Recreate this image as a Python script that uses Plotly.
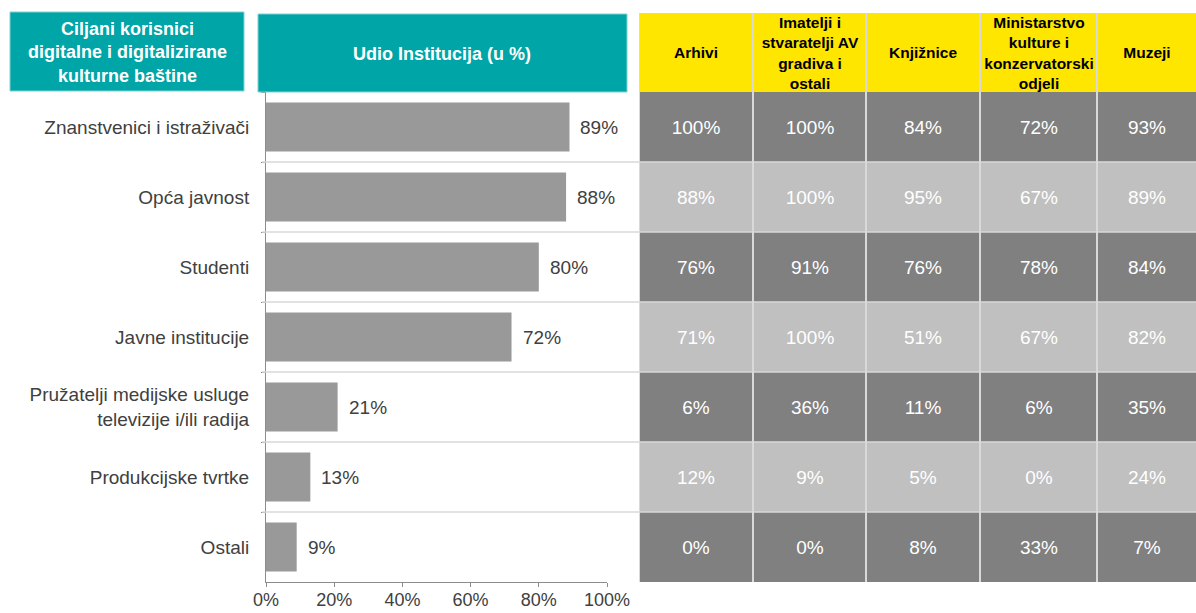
import plotly.graph_objects as go

# ---- data -------------------------------------------------------------
categories = [
    "Znanstvenici i istraživači",
    "Opća javnost",
    "Studenti",
    "Javne institucije",
    "Pružatelji medijske usluge<br>televizije i/ili radija",
    "Produkcijske tvrtke",
    "Ostali",
]
share_pct = [89, 88, 80, 72, 21, 13, 9]

institution_types = [
    "Arhivi",
    "Imatelji i<br>stvaratelji AV<br>gradiva i<br>ostali",
    "Knjižnice",
    "Ministarstvo<br>kulture i<br>konzervatorski<br>odjeli",
    "Muzeji",
]
arhivi = [100, 88, 76, 71, 6, 12, 0]
av_gradivo = [100, 100, 91, 100, 36, 9, 0]
knjiznice = [84, 95, 76, 51, 11, 5, 8]
ministarstvo = [72, 67, 78, 67, 6, 0, 33]
muzeji = [93, 89, 84, 82, 35, 24, 7]

x_ticks = [0, 20, 40, 60, 80, 100]

# ---- layout constants ---------------------------------------------------
W, H = 1196, 613
FONT = "Liberation Sans, Arial, sans-serif"
TXT = "#404040"
TEAL = "#00A5A8"
YELLOW = "#FFE600"
DARK_ROW = "#808080"
LIGHT_ROW = "#C0C0C0"
GRID = "#D9D9D9"
AXIS = "#8C8C8C"


def fx(px):
    return px / W


def fy(py):
    return 1 - py / H


# table column edges (px offsets from the table's left edge)
col_edges = [0, 114, 227, 341, 458, 557]

columns = [arhivi, av_gradivo, knjiznice, ministarstvo, muzeji]
cell_text = [[f"{col[r]}%" for col in columns] for r in range(len(categories))]
row_shade = [[r % 2 for _ in columns] for r in range(len(categories))]

fig = go.Figure()

# horizontal bars
fig.add_trace(go.Bar(
    x=share_pct, y=categories, orientation="h",
    marker=dict(color="#999999", line=dict(width=0)),
    width=0.7, xaxis="x", yaxis="y", hoverinfo="skip",
))

# table body
fig.add_trace(go.Heatmap(
    z=row_shade, x=col_edges, y=categories, text=cell_text,
    texttemplate="%{text}",
    textfont=dict(family=FONT, size=19, color="white"),
    colorscale=[[0, DARK_ROW], [1, LIGHT_ROW]], zmin=0, zmax=1,
    showscale=False, xaxis="x2", yaxis="y", hoverinfo="skip",
))

# table header
fig.add_trace(go.Heatmap(
    z=[[0] * len(institution_types)], x=col_edges, y=[0],
    text=[institution_types], texttemplate="%{text}",
    textfont=dict(family=FONT, size=15.5, color="black", weight="bold"),
    colorscale=[[0, YELLOW], [1, YELLOW]], zmin=0, zmax=1,
    showscale=False, xaxis="x2", yaxis="y3", hoverinfo="skip",
))

shapes = []
# row separators across bar area and table
for k in range(len(categories) - 1):
    shapes.append(dict(type="line", xref="paper", yref="y",
                       x0=fx(262), x1=1, y0=k + 0.5, y1=k + 0.5,
                       line=dict(color=GRID, width=1.5)))
# table column borders
for e in col_edges[:-1]:
    shapes.append(dict(type="line", xref="x2", yref="paper",
                       x0=e, x1=e, y0=fy(582), y1=fy(13),
                       line=dict(color=GRID, width=2)))
# teal header boxes
shapes.append(dict(type="rect", xref="paper", yref="paper",
                   x0=fx(10), x1=fx(244), y0=fy(91), y1=fy(12),
                   fillcolor=TEAL, line=dict(color="#7FD2D3", width=1)))
shapes.append(dict(type="rect", xref="paper", yref="paper",
                   x0=fx(258), x1=fx(627), y0=fy(92), y1=fy(14),
                   fillcolor=TEAL, line=dict(color="#7FD2D3", width=1)))

annotations = []
# bar value labels
for cat, v in zip(categories, share_pct):
    annotations.append(dict(x=v, y=cat, xref="x", yref="y", text=f"{v}%",
                            xanchor="left", xshift=9, showarrow=False,
                            font=dict(family=FONT, size=19, color=TXT)))
annotations.append(dict(
    x=fx(127), y=fy(52), xref="paper", yref="paper",
    xanchor="center", yanchor="middle",
    text="Ciljani korisnici<br>digitalne i digitalizirane<br>kulturne baštine",
    showarrow=False, font=dict(family=FONT, size=18, color="white", weight="bold")))
annotations.append(dict(
    x=fx(442), y=fy(54), xref="paper", yref="paper",
    xanchor="center", yanchor="middle",
    text="Udio Institucija (u %)",
    showarrow=False, font=dict(family=FONT, size=18, color="white", weight="bold")))

fig.update_layout(
    width=W, height=H,
    margin=dict(l=0, r=0, t=0, b=0, autoexpand=False),
    paper_bgcolor="white", plot_bgcolor="white",
    showlegend=False,
    xaxis=dict(domain=[fx(266), fx(607)], range=[0, 100],
               tickvals=x_ticks, ticktext=[f"{t}%" for t in x_ticks],
               ticks="outside", ticklen=4, tickcolor=AXIS,
               showline=True, linecolor=AXIS, linewidth=1,
               showgrid=False, zeroline=False, fixedrange=True,
               ticklabelstandoff=-3,
               tickfont=dict(family=FONT, size=18, color=TXT), anchor="y"),
    yaxis=dict(domain=[fy(582), fy(92)], type="category",
               categoryorder="array", categoryarray=categories,
               range=[len(categories) - 0.5, -0.5],
               tickson="boundaries", ticks="outside", ticklen=4,
               tickcolor=AXIS, showline=True, linecolor=AXIS,
               linewidth=1, showgrid=False, zeroline=False,
               ticklabelstandoff=12,
               tickfont=dict(family=FONT, size=19, color=TXT), anchor="x"),
    xaxis2=dict(domain=[fx(639), 1], range=[0, col_edges[-1]],
                visible=False, anchor="y"),
    yaxis3=dict(domain=[fy(92), fy(13)], range=[-0.5, 0.5],
                visible=False, anchor="x2"),
    shapes=shapes,
    annotations=annotations,
)

fig.write_html("out.html")
